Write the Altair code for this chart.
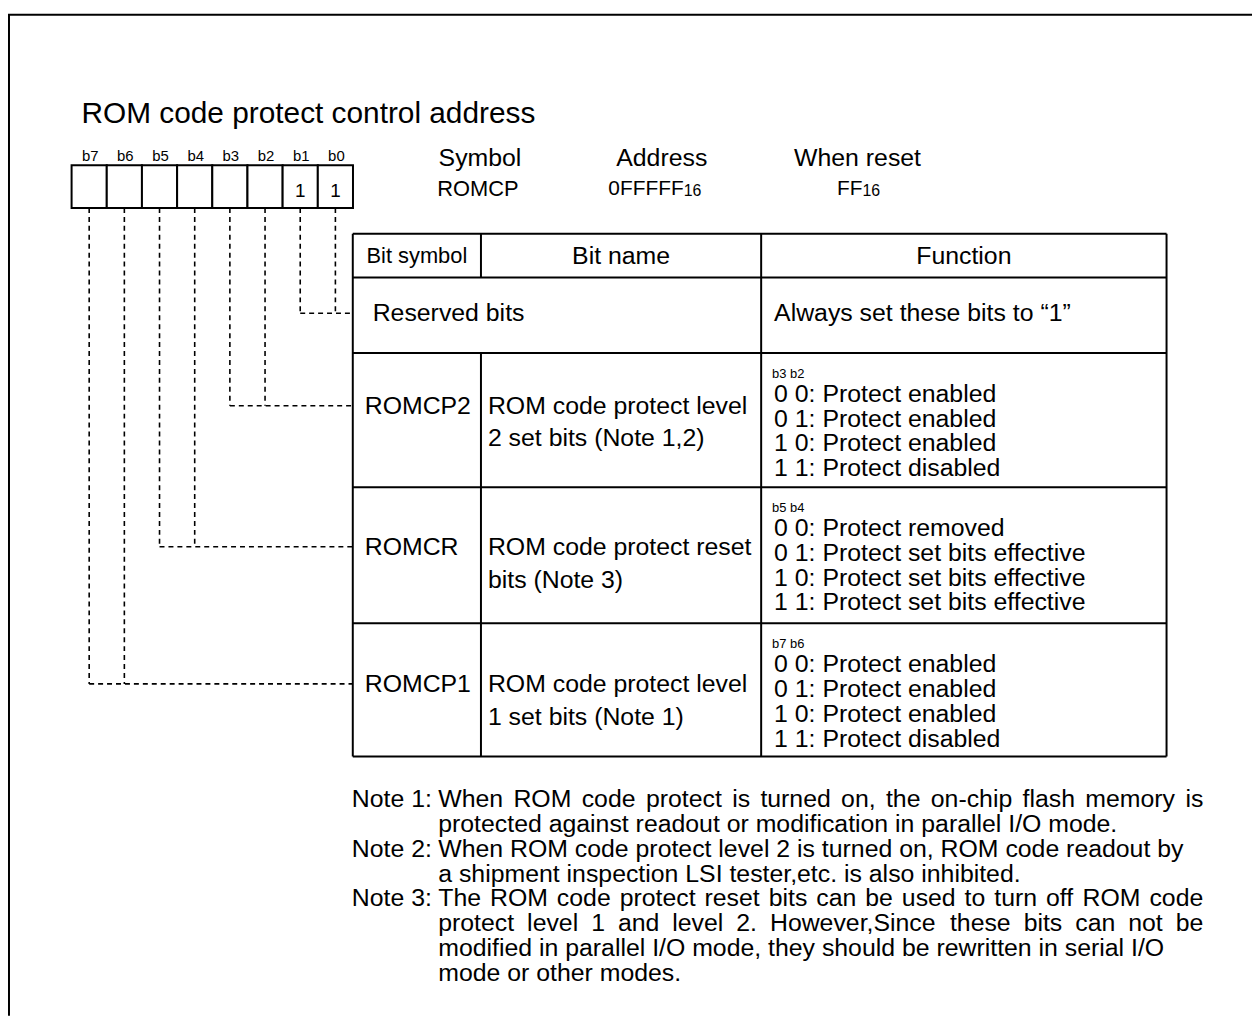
import altair as alt
import pandas as pd

# ---------------- content ----------------
TITLE = "ROM code protect control address"
BIT_LABELS = ["b7", "b6", "b5", "b4", "b3", "b2", "b1", "b0"]
BIT_VALUES = ["", "", "", "", "", "", "1", "1"]

INFO_LABELS = ["Symbol", "Address", "When reset"]
INFO_VALUES = ["ROMCP", "0FFFFF", "FF"]
INFO_SUBSCRIPTS = ["", "16", "16"]

TABLE_HEADERS = ["Bit symbol", "Bit name", "Function"]
RESERVED_BITS = ["b1", "b0"]
RESERVED_NAME = "Reserved bits"
RESERVED_FUNCTION = "Always set these bits to \u201c1\u201d"

FIELD_SYMBOLS = ["ROMCP2", "ROMCR", "ROMCP1"]
FIELD_BITS = [["b3", "b2"], ["b5", "b4"], ["b7", "b6"]]
FIELD_NAMES = [
    ["ROM code protect level", "2 set bits (Note 1,2)"],
    ["ROM code protect reset", "bits (Note 3)"],
    ["ROM code protect level", "1 set bits (Note 1)"],
]
FIELD_FUNCTIONS = [
    ["0 0: Protect enabled", "0 1: Protect enabled",
     "1 0: Protect enabled", "1 1: Protect disabled"],
    ["0 0: Protect removed", "0 1: Protect set bits effective",
     "1 0: Protect set bits effective", "1 1: Protect set bits effective"],
    ["0 0: Protect enabled", "0 1: Protect enabled",
     "1 0: Protect enabled", "1 1: Protect disabled"],
]

NOTES = [
    "Note 1: When ROM code protect is turned on, the on-chip flash memory is",
    "protected against readout or modification in parallel I/O mode.",
    "Note 2: When ROM code protect level 2 is turned on, ROM code readout by",
    "a shipment inspection LSI tester,etc. is also inhibited.",
    "Note 3: The ROM code protect reset bits can be used to turn off ROM code",
    "protect level 1 and level 2. However,Since these bits can not be",
    "modified in parallel I/O mode, they should be rewritten in serial I/O",
    "mode or other modes.",
]
NOTE_JUSTIFIED = [True, False, False, False, True, True, False, False]

# ---------------- layout (page pixels) ----------------
FONT = "Liberation Sans"
W, H = 1252, 1011
OX, OY = 8, 8
REG_LEFT, CELL_W, REG_TOP, REG_BOTTOM = 72, 35.4, 163, 206
COL_X = [355, 484, 766, 1174]
ROW_Y = [232, 276, 352, 487, 624, 758]
LINK_Y = [312, 405, 547, 685]
INFO_CENTER_X = [483, 666, 863]
INFO_ANCHOR_X = [481, 688, 868]
NOTE_TOP, NOTE_STEP, NOTE_SIZE = 801, 25, 25
NOTE_LEFT, NOTE_INDENT, NOTE_RIGHT = 354, 441, 1211

XS = alt.Scale(domain=[OX, OX + W], range=[0, W], nice=False, zero=False)
YS = alt.Scale(domain=[OY, OY + H], range=[0, H], nice=False, zero=False)

# Arial / Liberation Sans advance widths (per 1000 em) for justification
_ADV = dict(zip("abcdefghijklmnopqrstuvwxyz",
                [556, 556, 500, 556, 556, 278, 556, 556, 222, 222, 500, 222, 833,
                 556, 556, 556, 556, 333, 500, 278, 556, 500, 722, 500, 500, 500]))
_ADV.update(zip("ABCDEFGHIJKLMNOPQRSTUVWXYZ",
                [667, 667, 722, 722, 667, 611, 778, 722, 278, 500, 667, 556, 833,
                 722, 778, 667, 778, 722, 667, 611, 722, 667, 944, 667, 667, 611]))
_ADV.update({d: 556 for d in "0123456789"})
_ADV.update({" ": 278, ",": 278, ".": 278, ":": 278, "-": 333, "/": 278,
             "(": 333, ")": 333})


def text_width(s, size):
    return sum(_ADV.get(ch, 556) for ch in s) * size / 1000.0


def bit_center(label):
    i = BIT_LABELS.index(label)
    return REG_LEFT + CELL_W * (i + 0.5)


# ---------------- geometry tables ----------------
solid = []
solid.append(dict(x=OX, x2=OX + W, y=11.5, y2=11.5))       # frame top
solid.append(dict(x=9, x2=9, y=11, y2=OY + H))              # frame left
for y in ROW_Y:
    solid.append(dict(x=COL_X[0], x2=COL_X[3], y=y, y2=y))
for x in (COL_X[0], COL_X[2], COL_X[3]):
    solid.append(dict(x=x, x2=x, y=ROW_Y[0], y2=ROW_Y[-1]))
solid.append(dict(x=COL_X[1], x2=COL_X[1], y=ROW_Y[0], y2=ROW_Y[1]))
solid.append(dict(x=COL_X[1], x2=COL_X[1], y=ROW_Y[2], y2=ROW_Y[-1]))
solid_df = pd.DataFrame(solid)

cells = pd.DataFrame([
    dict(x=REG_LEFT + CELL_W * i, x2=REG_LEFT + CELL_W * (i + 1),
         y=REG_TOP, y2=REG_BOTTOM)
    for i in range(len(BIT_LABELS))
])

dashed = []
groups = [RESERVED_BITS] + FIELD_BITS
for bits, ly in zip(groups, LINK_Y):
    xs = [bit_center(b) for b in bits]
    for xc in xs:
        dashed.append(dict(x=xc, x2=xc, y=REG_BOTTOM, y2=ly))
    dashed.append(dict(x=min(xs), x2=COL_X[0], y=ly, y2=ly))
dashed_df = pd.DataFrame(dashed)

# ---------------- texts ----------------
texts = []


def T(x, y, s, size, align="left"):
    texts.append(dict(x=x, y=y, text=s, size=size, align=align))


T(82, 111.5, TITLE, 30)
for lab, val in zip(BIT_LABELS, BIT_VALUES):
    c = bit_center(lab)
    T(c + 1, 154, lab, 15, "center")
    if val:
        T(c, 189, val, 19, "center")

for lab, val, sub, cx, ax in zip(INFO_LABELS, INFO_VALUES, INFO_SUBSCRIPTS,
                                 INFO_CENTER_X, INFO_ANCHOR_X):
    T(cx, 156, lab, 25, "center")
    if sub:
        T(ax, 187, val, 21, "right")
        T(ax, 189, sub, 16, "left")
    else:
        T(ax, 187, val, 22, "center")

hdr_y = (ROW_Y[0] + ROW_Y[1]) / 2
for i, h in enumerate(TABLE_HEADERS):
    T((COL_X[i] + COL_X[i + 1]) / 2, hdr_y, h, 22 if i == 0 else 25, "center")

T(COL_X[0] + 20, LINK_Y[0], RESERVED_NAME, 25)
T(COL_X[2] + 13, LINK_Y[0], RESERVED_FUNCTION, 25)

for i, sym in enumerate(FIELD_SYMBOLS):
    ly = LINK_Y[i + 1]
    top = ROW_Y[i + 2]
    T(COL_X[0] + 12, ly, sym, 25)
    for k, line in enumerate(FIELD_NAMES[i]):
        T(COL_X[1] + 7, ly + 33 * k, line, 25)
    T(COL_X[2] + 11, top + 21, " ".join(FIELD_BITS[i]), 13)
    for k, line in enumerate(FIELD_FUNCTIONS[i]):
        T(COL_X[2] + 13, top + 41 + 25 * k, line, 25)

for k, (line, just) in enumerate(zip(NOTES, NOTE_JUSTIFIED)):
    y = NOTE_TOP + NOTE_STEP * k
    if line.startswith("Note"):
        # hanging label "Note n:" then body starting at the indent
        label, body = line.split(": ", 1)
        T(NOTE_LEFT, y, label + ":", NOTE_SIZE)
        x0 = NOTE_INDENT
    else:
        body = line
        x0 = NOTE_INDENT
    if just:
        words = body.split(" ")
        widths = [text_width(wd, NOTE_SIZE) for wd in words]
        gap = (NOTE_RIGHT - x0 - sum(widths)) / (len(words) - 1)
        x = x0
        for wd, ww in zip(words, widths):
            T(x, y, wd, NOTE_SIZE)
            x += ww + gap
    else:
        T(x0, y, body, NOTE_SIZE)

text_df = pd.DataFrame(texts)

# ---------------- chart ----------------
def enc_xy(ch, with2=True):
    e = dict(x=alt.X("x:Q", scale=XS, axis=None),
             y=alt.Y("y:Q", scale=YS, axis=None))
    if with2:
        e["x2"] = alt.X2("x2:Q")
        e["y2"] = alt.Y2("y2:Q")
    return ch.encode(**e)


layers = [
    enc_xy(alt.Chart(cells).mark_rect(fill="white", stroke="black", strokeWidth=2)),
    enc_xy(alt.Chart(solid_df).mark_rule(color="black", strokeWidth=2)),
    enc_xy(alt.Chart(dashed_df).mark_rule(color="black", strokeWidth=1.6,
                                          strokeDash=[5, 4])),
]
for al in ("left", "center", "right"):
    sub = text_df[text_df["align"] == al]
    if len(sub) == 0:
        continue
    layers.append(
        alt.Chart(sub).mark_text(align=al, baseline="middle", font=FONT,
                                 color="black").encode(
            x=alt.X("x:Q", scale=XS, axis=None),
            y=alt.Y("y:Q", scale=YS, axis=None),
            text="text:N",
            size=alt.Size("size:Q", scale=None),
        )
    )

chart = alt.layer(*layers).properties(
    width=W, height=H, padding=0, autosize="none", background="white"
).configure_view(stroke=None)

chart.save("out.html", embed_options={"renderer": "svg", "actions": False})
